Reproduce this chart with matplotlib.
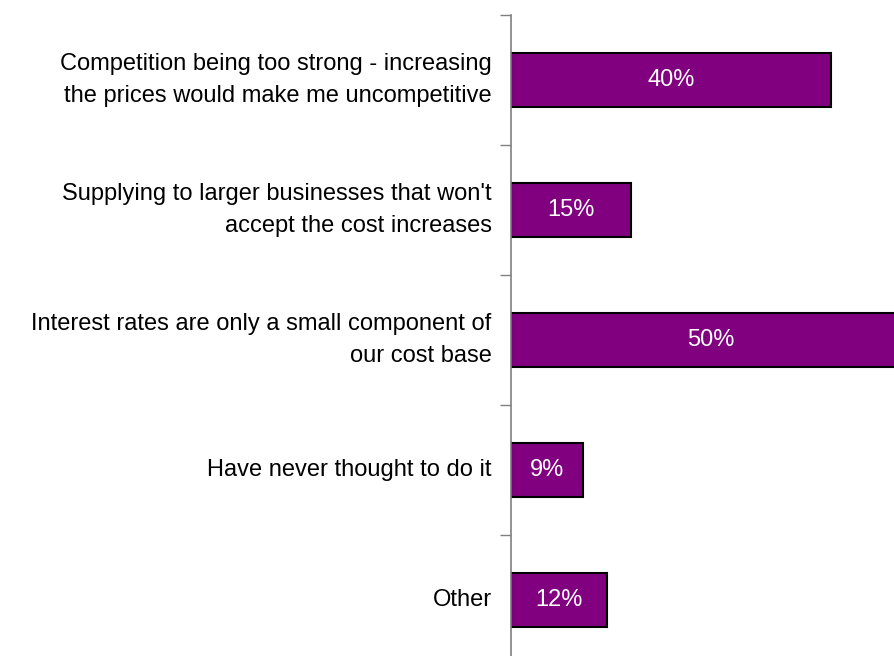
import numpy as np
import matplotlib.pyplot as plt

plt.rcParams['font.family'] = ['Liberation Sans', 'DejaVu Sans']

# reasons for not passing on cost increases
reasons = [
    "Competition being too strong - increasing\nthe prices would make me uncompetitive",
    "Supplying to larger businesses that won't\naccept the cost increases",
    "Interest rates are only a small component of\nour cost base",
    "Have never thought to do it",
    "Other",
]
shares = [40, 15, 50, 9, 12]

fig = plt.figure(figsize=(8.95, 6.56), dpi=100)
ax = fig.add_axes([0.571, -0.0137, 0.429, 0.9914])

y = np.arange(len(reasons))
bars = ax.barh(y, shares, height=0.415, color='#800080', edgecolor='black', linewidth=1.5)

for b, v in zip(bars, shares):
    ax.text(v / 2, b.get_y() + b.get_height() / 2, f"{v}%", color='white',
            ha='center', va='center', fontsize=17)

ax.set_xlim(0, 48)
ax.set_ylim(len(reasons) - 0.5, -0.5)
ax.set_yticks(y)
ax.set_yticklabels(reasons, fontsize=17, ha='right', va='center', linespacing=1.6)
ax.tick_params(axis='y', which='major', length=0, pad=14)
ax.set_yticks(np.arange(-0.5, len(reasons)), minor=True)
ax.tick_params(axis='y', which='minor', length=8, color='#808080', width=1)
ax.set_xticks([])

for s in ['top', 'right', 'bottom']:
    ax.spines[s].set_visible(False)
ax.spines['left'].set_color('#808080')
ax.spines['left'].set_linewidth(1.2)

fig.savefig("out.png", dpi=100)
